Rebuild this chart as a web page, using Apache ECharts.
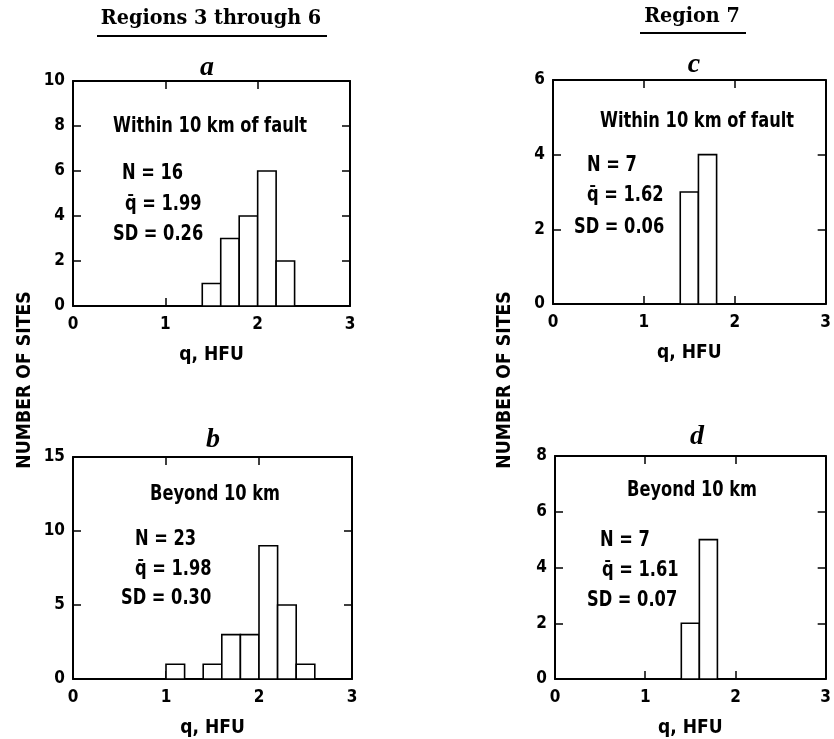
<!DOCTYPE html>
<html>
<head>
<meta charset="utf-8">
<script src="https://cdn.jsdelivr.net/npm/echarts@6/dist/echarts.min.js"></script>
<style>
html,body{margin:0;padding:0;background:#fff;}
#chart{width:834px;height:739px;}
</style>
</head>
<body>
<div id="chart"></div>
<script>
// ---- data ----
const binWidth = 0.2;
const binStartsA = [1.4, 1.6, 1.8, 2.0, 2.2];
const countsA    = [1, 3, 4, 6, 2];
const binStartsB = [1.0, 1.4, 1.6, 1.8, 2.0, 2.2, 2.4];
const countsB    = [1, 1, 3, 3, 9, 5, 1];
const binStartsC = [1.4, 1.6];
const countsC    = [3, 4];
const binStartsD = [1.4, 1.6];
const countsD    = [2, 5];

const xTicks = [0, 1, 2, 3];
const yMaxes = [10, 15, 6, 8];
const yIntervals = [2, 5, 2, 2];

const panelLetters = ['a', 'b', 'c', 'd'];
const groupTitles = ['Regions 3 through 6', 'Region 7'];
const regionLabels = ['Within 10 km of fault', 'Beyond 10 km', 'Within 10 km of fault', 'Beyond 10 km'];
const statN  = ['16', '23', '7', '7'];
const statQ  = ['1.99', '1.98', '1.62', '1.61'];
const statSD = ['0.26', '0.30', '0.06', '0.07'];
const xAxisTitle = 'q, HFU';
const yAxisTitle = 'NUMBER OF SITES';

// ---- chart ----
const SANS = "'Liberation Sans Narrow', 'DejaVu Sans Condensed', 'Liberation Sans', sans-serif";
const SERIF = "'DejaVu Serif', 'Liberation Serif', serif";
const chart = echarts.init(document.getElementById('chart'), null, {renderer: 'canvas'});

const grids = [
  {left: 73, top: 81, width: 277, height: 225},
  {left: 73, top: 457, width: 279, height: 225},
  {left: 553, top: 80, width: 278, height: 224},
  {left: 555, top: 456, width: 278, height: 223}
];

const allBins = [[binStartsA, countsA], [binStartsB, countsB], [binStartsC, countsC], [binStartsD, countsD]];

const xAxes = [], yAxes = [], series = [];
const lineStyle = {color: '#000', width: 2};
const tickStyle = {inside: true, length: 8, lineStyle: {color: '#000', width: 1.5}};
grids.forEach((g, i) => {
  xAxes.push({
    gridIndex: i, type: 'value', position: 'bottom', min: xTicks[0], max: xTicks[xTicks.length - 1], interval: 1,
    axisLine: {show: true, onZero: false, lineStyle}, axisTick: tickStyle, splitLine: {show: false},
    axisLabel: {margin: 10, color: '#000', fontFamily: SANS, fontWeight: 'bold', fontSize: 17},
    name: xAxisTitle, nameLocation: 'middle', nameGap: 40,
    nameTextStyle: {color: '#000', fontFamily: SANS, fontWeight: 'bold', fontSize: 19}
  });
  xAxes.push({
    gridIndex: i, type: 'value', position: 'top', min: xTicks[0], max: xTicks[xTicks.length - 1], interval: 1,
    axisLine: {show: true, onZero: false, lineStyle}, axisTick: tickStyle, splitLine: {show: false},
    axisLabel: {show: false}
  });
  yAxes.push({
    gridIndex: i, type: 'value', position: 'left', min: 0, max: yMaxes[i], interval: yIntervals[i],
    axisLine: {show: true, onZero: false, lineStyle}, axisTick: tickStyle, splitLine: {show: false},
    axisLabel: {margin: 8, color: '#000', fontFamily: SANS, fontWeight: 'bold', fontSize: 17}
  });
  yAxes.push({
    gridIndex: i, type: 'value', position: 'right', min: 0, max: yMaxes[i], interval: yIntervals[i],
    axisLine: {show: true, onZero: false, lineStyle}, axisTick: tickStyle, splitLine: {show: false},
    axisLabel: {show: false}
  });
  const [starts, counts] = allBins[i];
  series.push({
    type: 'custom',
    xAxisIndex: 2 * i, yAxisIndex: 2 * i,
    data: starts.map((s, k) => [s, s + binWidth, counts[k]]),
    encode: {x: [0, 1], y: 2},
    renderItem: (params, api) => {
      const p0 = api.coord([api.value(0), 0]);
      const p1 = api.coord([api.value(1), api.value(2)]);
      return {
        type: 'rect',
        shape: {x: p0[0], y: p1[1], width: p1[0] - p0[0], height: p0[1] - p1[1]},
        style: {fill: '#fff', stroke: '#000', lineWidth: 1.6}
      };
    },
    z: 1
  });
});

// annotation layout (pixel positions)
const annot = [
  {title: [210, 127], n: [122, 174], q: [125, 205], sd: [113, 235], letter: [207, 68]},
  {title: [215, 495], n: [135, 540], q: [135, 570], sd: [121, 599], letter: [213, 440]},
  {title: [697, 122], n: [587, 166], q: [587, 196], sd: [574, 228], letter: [694, 65]},
  {title: [692, 491], n: [600, 541], q: [602, 571], sd: [587, 601], letter: [697, 437]}
];
const graphic = [];
const txt = (x, y, text, font, align, extra) => Object.assign({
  type: 'text', x, y,
  style: Object.assign({text, fill: '#000', textAlign: align || 'left', textVerticalAlign: 'middle'}, font)
}, extra || {});
const sansBold = (s) => ({fontFamily: SANS, fontWeight: 'bold', fontSize: s});
const narrow = {scaleX: 0.86};
annot.forEach((a, i) => {
  graphic.push(txt(a.title[0], a.title[1], regionLabels[i], sansBold(21), 'center', narrow));
  graphic.push(txt(a.n[0], a.n[1], 'N = ' + statN[i], sansBold(21), 'left', narrow));
  graphic.push(txt(a.q[0], a.q[1], 'q\u0304 = ' + statQ[i], sansBold(21), 'left', narrow));
  graphic.push(txt(a.sd[0], a.sd[1], 'SD = ' + statSD[i], sansBold(21), 'left', narrow));
  graphic.push(txt(a.letter[0], a.letter[1], panelLetters[i],
    {fontFamily: "'Liberation Serif', serif", fontWeight: 'bold', fontStyle: 'italic', fontSize: 28}, 'center'));
});
// group titles with underline
graphic.push(txt(211, 19, groupTitles[0], {fontFamily: SERIF, fontWeight: 'bold', fontSize: 20}, 'center', {scaleX: 0.96}));
graphic.push({type: 'line', shape: {x1: 97, y1: 36, x2: 327, y2: 36}, style: {stroke: '#000', lineWidth: 2}});
graphic.push(txt(692, 17, groupTitles[1], {fontFamily: SERIF, fontWeight: 'bold', fontSize: 20}, 'center', {scaleX: 0.96}));
graphic.push({type: 'line', shape: {x1: 640, y1: 33, x2: 746, y2: 33}, style: {stroke: '#000', lineWidth: 2}});
// y axis titles (shared by two panels)
graphic.push(txt(25, 380, yAxisTitle, sansBold(20), 'center', {rotation: Math.PI / 2, scaleX: 0.96}));
graphic.push(txt(505, 380, yAxisTitle, sansBold(20), 'center', {rotation: Math.PI / 2, scaleX: 0.96}));

chart.setOption({
  animation: false,
  backgroundColor: '#fff',
  grid: grids,
  xAxis: xAxes,
  yAxis: yAxes,
  series,
  graphic
});
</script>
</body>
</html>
